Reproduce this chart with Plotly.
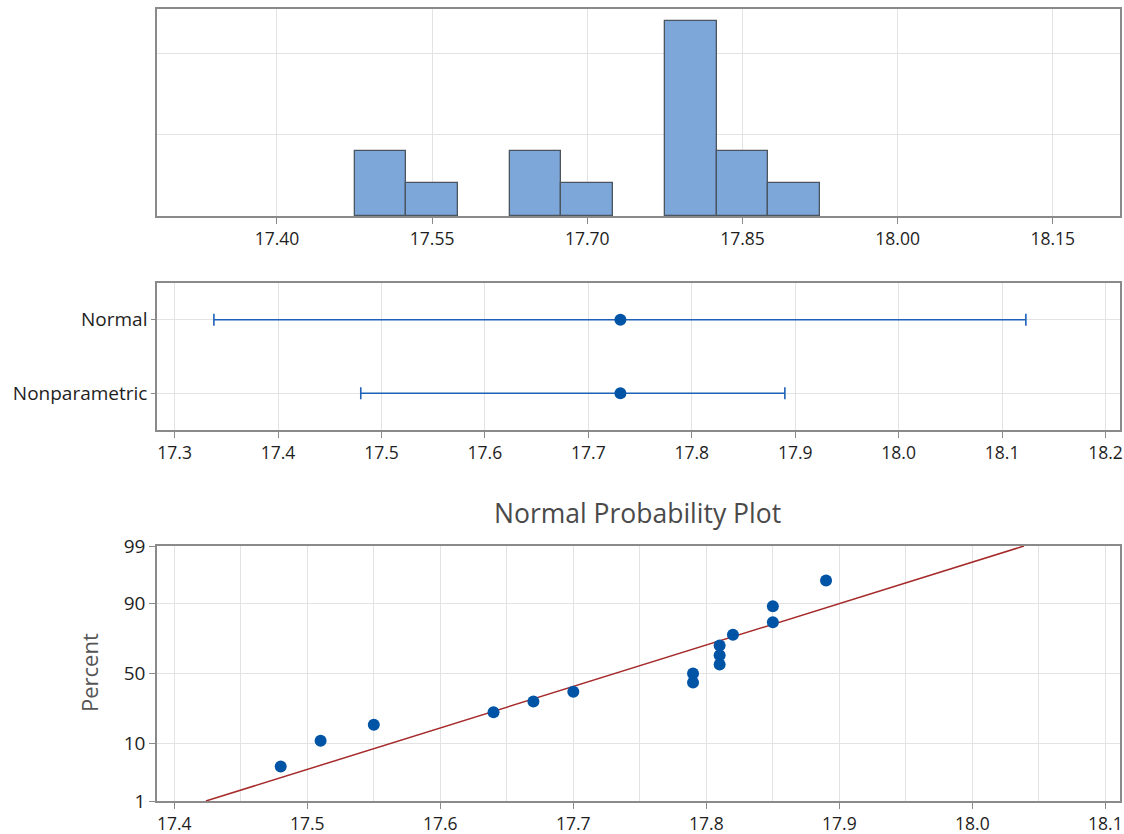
import plotly.graph_objects as go
from statistics import NormalDist

# ---- data ----
values = [17.48, 17.51, 17.55, 17.64, 17.67, 17.70, 17.79, 17.79,
          17.81, 17.81, 17.81, 17.82, 17.85, 17.85, 17.89]
percents = [4.5, 11.0, 17.5, 24.0, 30.5, 37.0, 43.5, 50.0,
            56.5, 63.0, 69.5, 76.0, 82.5, 89.0, 95.5]
interval_labels = ["Normal", "Nonparametric"]
interval_center = [17.731, 17.731]
interval_lower = [17.338, 17.48]
interval_upper = [18.123, 17.89]
fit_mean = 17.7313
fit_sd = 0.1322
fit_percent_ends = [1, 99]
prob_ticks = [1, 10, 50, 90, 99]
hist_ticks = [17.40, 17.55, 17.70, 17.85, 18.00, 18.15]
hist_bin_start = 17.475
hist_bin_size = 0.05

nd = NormalDist()
W, H = 1124, 834
FONT = "Open Sans"
GRID = "#e3e3e3"
FRAME = "#8a8a8a"
BLUE = "#0054a6"
TXT = "#1e1e1e"


def px_x(a, b):
    return [a / W, b / W]


def px_y(top, bottom):
    return [1 - bottom / H, 1 - top / H]


fig = go.Figure()

# Histogram
fig.add_trace(go.Histogram(
    x=values, xaxis="x", yaxis="y",
    xbins=dict(start=hist_bin_start, end=17.925, size=hist_bin_size),
    marker=dict(color="#7da7d8", line=dict(color="#4b5560", width=1.3)),
    showlegend=False, hoverinfo="skip"))

# Interval plot
fig.add_trace(go.Scatter(
    x=interval_center, y=interval_labels, xaxis="x2", yaxis="y2",
    mode="markers",
    marker=dict(color=BLUE, size=12),
    error_x=dict(type="data", symmetric=False,
                 array=[u - c for u, c in zip(interval_upper, interval_center)],
                 arrayminus=[c - l for c, l in zip(interval_center, interval_lower)],
                 color="#1d62b8", thickness=1.6, width=6),
    showlegend=False, hoverinfo="skip"))

# Normal probability plot
z_pts = [nd.inv_cdf(p / 100) for p in percents]
z_fit = [nd.inv_cdf(p / 100) for p in fit_percent_ends]
x_fit = [fit_mean + fit_sd * z for z in z_fit]
fig.add_trace(go.Scatter(
    x=x_fit, y=z_fit, xaxis="x3", yaxis="y3", mode="lines",
    line=dict(color="#a52a2a", width=1.5),
    showlegend=False, hoverinfo="skip"))
fig.add_trace(go.Scatter(
    x=values, y=z_pts, xaxis="x3", yaxis="y3", mode="markers",
    marker=dict(color=BLUE, size=12),
    showlegend=False, hoverinfo="skip"))

axis_common = dict(showline=True, mirror=True, linecolor=FRAME, linewidth=1.5,
                   gridcolor=GRID, gridwidth=1, zeroline=False, automargin=False)
xfont = dict(family=FONT, size=17.5, color=TXT)
yfont = dict(family=FONT, size=19, color=TXT)

fig.update_layout(
    width=W, height=H,
    margin=dict(l=0, r=0, t=0, b=0),
    paper_bgcolor="white", plot_bgcolor="white",
    bargap=0,
    xaxis=dict(domain=px_x(157, 1120), range=[17.284, 18.215], anchor="y",
               tickvals=hist_ticks, ticktext=[f"{v:.2f}" for v in hist_ticks],
               ticks="outside", ticklen=6, tickcolor=FRAME, showgrid=True,
               tickfont=xfont, **axis_common),
    yaxis=dict(domain=px_y(9, 216), range=[0, 6.36], anchor="x",
               tickvals=[2.5, 5], showticklabels=False, ticks="", showgrid=True,
               **axis_common),
    xaxis2=dict(domain=px_x(157, 1120), range=[17.283, 18.214], anchor="y2",
                dtick=0.1, tick0=17.3, tickformat=".1f",
                ticks="outside", ticklen=6, tickcolor=FRAME, showgrid=True,
                tickfont=xfont, **axis_common),
    yaxis2=dict(domain=px_y(283, 430), anchor="x2", type="category",
                categoryorder="array", categoryarray=["Nonparametric", "Normal"],
                range=[-0.5, 1.5], ticks="outside", ticklen=4, tickcolor=FRAME,
                showgrid=True, tickfont=yfont, **axis_common),
    xaxis3=dict(domain=px_x(157, 1120), range=[17.387, 18.111], anchor="y3",
                dtick=0.1, tick0=17.4, tickformat=".1f",
                ticks="outside", ticklen=6, tickcolor=FRAME, showgrid=True,
                minor=dict(dtick=0.05, showgrid=True, gridcolor=GRID, ticks=""),
                tickfont=xfont, **axis_common),
    yaxis3=dict(domain=px_y(546, 801), anchor="x3",
                range=[nd.inv_cdf(0.01), nd.inv_cdf(0.99)],
                tickvals=[nd.inv_cdf(p / 100) for p in prob_ticks],
                ticktext=[str(p) for p in prob_ticks],
                ticks="outside", ticklen=6, tickcolor=FRAME, showgrid=True,
                tickfont=yfont, **axis_common),
    annotations=[
        dict(text="Normal Probability Plot", x=637.5 / W, y=1 - 513 / H,
             xref="paper", yref="paper", showarrow=False,
             font=dict(family=FONT, size=26.5, color="#4a4a4a"),
             xanchor="center", yanchor="middle"),
        dict(text="Percent", x=89 / W, y=1 - 673 / H,
             xref="paper", yref="paper",
             showarrow=False, textangle=-90,
             font=dict(family=FONT, size=22, color="#555"),
             xanchor="center", yanchor="middle"),
    ],
)

fig.write_html("out.html",
               config={"displayModeBar": False},
               post_script="document.body.style.margin='0';"
                           "document.body.style.overflow='hidden';")
